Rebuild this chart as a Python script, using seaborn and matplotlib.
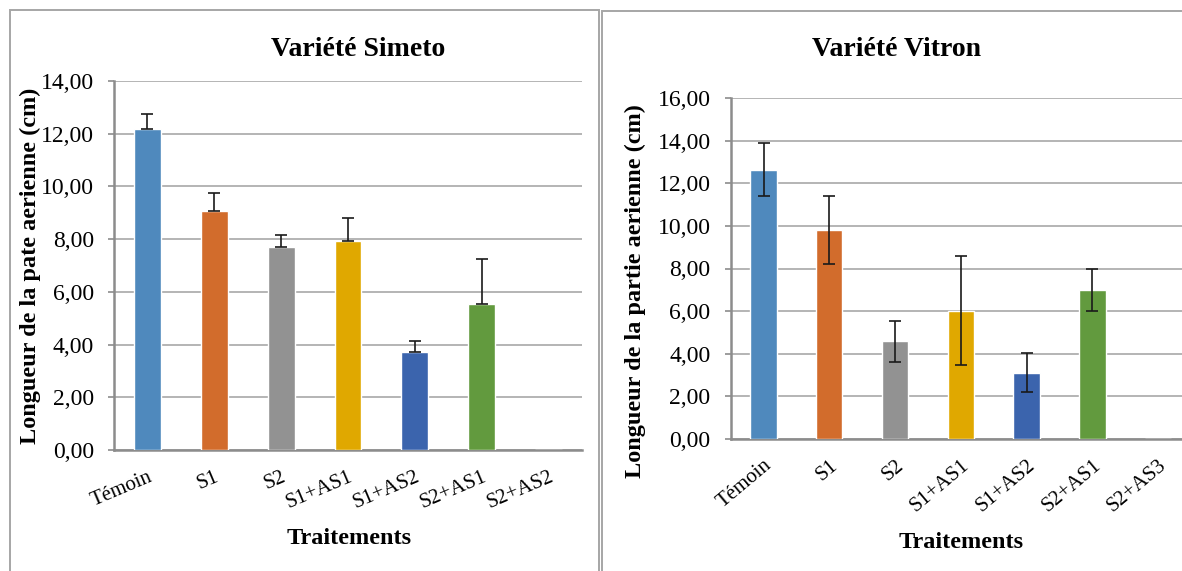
import numpy as np
import pandas as pd

import matplotlib
matplotlib.use("Agg")

import matplotlib.pyplot as plt
import seaborn as sns
from matplotlib.patches import Rectangle
from matplotlib.ticker import FuncFormatter, MultipleLocator
from matplotlib.transforms import ScaledTranslation


# -------------------------------------------------------
# DONNEES
# -------------------------------------------------------

traitements_simeto = ["Témoin", "S1", "S2", "S1+AS1", "S1+AS2", "S2+AS1", "S2+AS2"]
longueur_simeto = [12.18, 9.07, 7.70, 7.92, 3.70, 5.53, 0.0]
erreur_simeto = [0.58, 0.69, 0.45, 0.90, 0.42, 1.73, 0.0]

traitements_vitron = ["Témoin", "S1", "S2", "S1+AS1", "S1+AS2", "S2+AS1", "S2+AS3"]
longueur_vitron = [12.65, 9.82, 4.57, 6.02, 3.10, 7.00, 0.0]
erreur_vitron = [1.24, 1.61, 0.95, 2.56, 0.92, 1.00, 0.0]

couleurs = ["#4F89BD", "#D26C2C", "#929292", "#E0A800", "#3B64AD", "#629A3E", "#4F89BD"]


# -------------------------------------------------------
# CONFIGURATION
# -------------------------------------------------------

sns.set_theme(style="white")
plt.rcParams["font.family"] = ["Liberation Serif", "DejaVu Serif"]
plt.rcParams["text.color"] = "black"
plt.rcParams["xtick.color"] = "black"
plt.rcParams["ytick.color"] = "black"

W, H = 1182, 571
fig = plt.figure(figsize=(W / 100, H / 100), dpi=100)


def px(x, y):
    # pixels -> fraction de figure
    return x / W, 1 - y / H


def virgule(v, pos):
    return f"{v:.2f}".replace(".", ",")


def graphique(ax, cats, valeurs, erreurs, ymax, rotation, bas_seul, decal_x, pad_x):
    df = pd.DataFrame({"traitement": cats, "longueur": valeurs})
    sns.barplot(
        data=df, x="traitement", y="longueur", hue="traitement",
        palette=couleurs, width=0.4, legend=False, ax=ax,
        saturation=1, zorder=3,
    )

    # barres d'erreur (sauf la dernière modalité vide)
    idx = [i for i, v in enumerate(valeurs) if v > 0]
    haut = [erreurs[i] for i in idx]
    bas = [0 if bas_seul else erreurs[i] for i in idx]
    ax.errorbar(
        idx, [valeurs[i] for i in idx], yerr=[bas, haut],
        fmt="none", ecolor="#1a1a1a", elinewidth=1.2, capsize=4.5,
        capthick=1.2, zorder=4,
    )

    ax.set_xlim(-0.5, len(cats) - 0.5)
    ax.set_ylim(0, ymax)
    ax.yaxis.set_major_locator(MultipleLocator(2))
    ax.yaxis.set_major_formatter(FuncFormatter(virgule))
    ax.grid(axis="y", color="#A0A0A0", linewidth=1.1, zorder=0)
    ax.set_axisbelow(True)

    for s in ["top", "right"]:
        ax.spines[s].set_visible(False)
    for s in ["left", "bottom"]:
        ax.spines[s].set_color("#8C8C8C")
        ax.spines[s].set_linewidth(1.8)

    ax.tick_params(axis="y", length=4.5, width=1.2, color="#8C8C8C",
                   labelsize=17, labelcolor="black", pad=10, left=True)
    ax.tick_params(axis="x", length=0, labelsize=15, labelcolor="black", pad=pad_x)
    ax.set_xlabel("")
    ax.set_ylabel("")
    decal = ScaledTranslation(decal_x / 100, 0, fig.dpi_scale_trans)
    for lab in ax.get_xticklabels():
        lab.set_rotation(rotation)
        lab.set_ha("right")
        lab.set_rotation_mode("anchor")
        lab.set_va("center")
        lab.set_transform(lab.get_transform() + decal)


# -------------------------------------------------------
# CADRES
# -------------------------------------------------------

x0, y0 = px(10, 572)
x1, y1 = px(599, 10)
fig.patches.append(Rectangle((x0, y0), x1 - x0, y1 - y0, transform=fig.transFigure,
                             fill=False, edgecolor="#A6A6A6", linewidth=1.4))
x0, y0 = px(602, 572)
x1, y1 = px(1190, 11)
fig.patches.append(Rectangle((x0, y0), x1 - x0, y1 - y0, transform=fig.transFigure,
                             fill=False, edgecolor="#A6A6A6", linewidth=1.4))


# -------------------------------------------------------
# SIMETO
# -------------------------------------------------------

ax1 = fig.add_axes([114 / W, 1 - 450 / H, 468 / W, 369 / H])
graphique(ax1, traitements_simeto, longueur_simeto, erreur_simeto, 14, 23, True, 4, 19)
fig.text(*px(358, 50), "Variété Simeto", ha="center", va="center",
         fontsize=20, fontweight="bold")
fig.text(*px(349, 538), "Traitements", ha="center", va="center",
         fontsize=17.5, fontweight="bold")
fig.text(*px(30, 266), "Longueur de la pate aerienne (cm)", ha="center", va="center",
         rotation=90, fontsize=17.5, fontweight="bold")


# -------------------------------------------------------
# VITRON
# -------------------------------------------------------

ax2 = fig.add_axes([730.7 / W, 1 - 438.7 / H, 460.3 / W, 340.4 / H])
graphique(ax2, traitements_vitron, longueur_vitron, erreur_vitron, 16, 40, False, 6, 17.5)
fig.text(*px(897, 50), "Variété Vitron", ha="center", va="center",
         fontsize=20, fontweight="bold")
fig.text(*px(961, 543), "Traitements", ha="center", va="center",
         fontsize=17.5, fontweight="bold")
fig.text(*px(635, 291), "Longueur de la partie aerienne (cm)", ha="center", va="center",
         rotation=90, fontsize=17.5, fontweight="bold")


plt.savefig("out.png", dpi=100)
plt.close()
